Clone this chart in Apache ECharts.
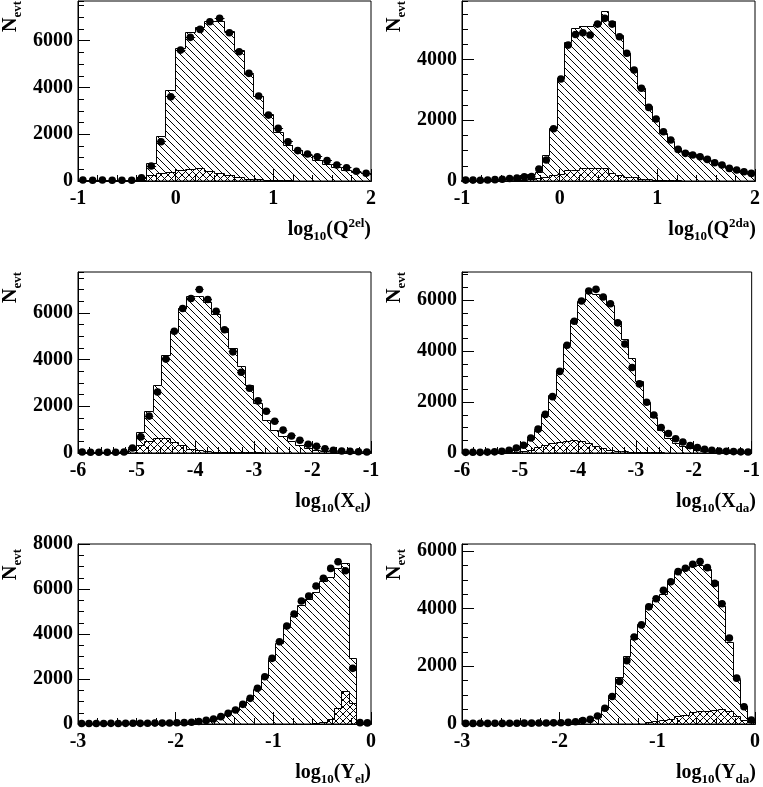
<!DOCTYPE html>
<html>
<head>
<meta charset="utf-8">
<title>Histograms</title>
<script src="https://cdn.jsdelivr.net/npm/echarts@6/dist/echarts.min.js"></script>
<style>
html,body{margin:0;padding:0;background:#fff;}
#chart{width:763px;height:787px;}
</style>
</head>
<body>
<div id="chart"></div>
<script>
// ---------------- data ----------------
// Panel 1: log10(Q2 el), 30 bins on [-1,2]
const mcQel = [15,20,20,25,25,30,110,755,1890,3860,5670,6360,6555,6815,6830,6385,5600,4535,3605,2830,2065,1540,1300,1070,870,715,570,470,370,300];
const bgQel = [0,0,0,0,0,0,10,220,300,370,470,480,540,410,300,230,160,85,45,30,10,5,0,0,0,0,0,0,0,0];
const dtQel = [40,35,40,30,35,30,140,640,1680,3600,5600,6145,6485,6815,6960,6340,5530,4605,3635,2820,2250,1680,1300,1155,1040,870,685,570,415,330];

// Panel 2: log10(Q2 da), 40 bins on [-1,2]
const mcQda = [10,10,15,20,25,35,45,70,140,200,265,855,1730,3355,4550,5020,5095,5095,5160,5570,5240,4770,4200,3650,3050,2440,1950,1570,1290,1075,930,860,770,680,580,500,420,340,280,220];
const bgQda = [0,0,0,0,0,0,0,10,20,40,80,120,175,200,330,330,395,395,395,395,250,175,120,120,65,35,30,15,10,5,0,0,0,0,0,0,0,0,0,0];
const dtQda = [30,30,25,35,45,60,80,100,135,150,395,690,1720,3355,4470,4820,4875,4800,5160,5350,5160,4745,4200,3650,3050,2420,2040,1620,1350,1040,910,855,800,710,600,525,415,360,305,250];

// Panel 3: log10(X el), 35 bins on [-6,-1]
const mcXel = [10,10,10,15,20,40,200,890,1780,2900,4170,5200,6180,6688,6688,6450,5927,5310,4470,3702,2875,2124,1406,960,689,474,330,190,115,70,45,30,20,15,10];
const bgXel = [0,0,0,0,0,5,130,300,480,640,620,460,300,170,100,60,40,25,15,10,5,5,0,0,0,0,0,0,0,0,0,0,0,0,0];
const dtXel = [40,35,35,30,30,45,215,690,1580,2610,4020,5210,6190,6615,7003,6570,6070,5280,4330,3460,2770,2230,1790,1360,980,730,545,375,285,185,115,85,70,55,45];

// Panel 4: log10(X da), 40 bins on [-6,-1]
const mcXda = [5,10,10,15,25,40,70,130,260,520,900,1500,2250,3200,4250,5200,5950,6250,6200,6150,5800,5150,4450,3700,2800,2000,1380,900,570,390,260,170,110,75,50,35,25,15,10,5];
const bgXda = [0,0,0,0,0,5,15,30,60,110,200,300,370,430,460,490,470,370,240,170,110,70,40,25,15,10,5,5,0,0,0,0,0,0,0,0,0,0,0,0];
const dtXda = [25,30,25,35,45,70,110,195,305,590,935,1515,2210,3200,4225,5170,5960,6355,6420,6120,5855,5105,4275,3355,2710,1990,1490,1000,765,560,430,290,210,145,105,80,65,55,45,40];

// Panel 5: log10(Y el), 40 bins on [-3,0]
const mcYel = [5,5,10,10,10,10,15,15,20,20,25,30,35,45,55,70,100,130,200,300,440,600,830,1100,1540,2050,2850,3600,4300,4800,5250,5550,5850,6350,6500,6900,7140,2900,10,5];
const bgYel = [0,0,0,0,0,0,0,0,0,0,0,0,0,0,0,0,0,0,0,0,0,0,0,0,0,0,0,0,0,0,0,0,20,60,180,700,1450,920,0,0];
const dtYel = [20,25,20,25,30,25,30,35,30,35,40,40,45,55,60,80,110,160,222,326,474,622,874,1140,1585,2103,2918,3658,4354,4887,5465,5687,6131,6472,6916,7212,6813,2473,60,50];

// Panel 6: log10(Y da), 40 bins on [-3,0]
const mcYda = [5,5,5,5,5,5,10,10,10,10,15,15,20,25,35,50,80,120,230,510,1000,1625,2345,2925,3447,4028,4283,4492,4898,5246,5362,5455,5502,5362,4956,4086,2809,1555,604,139];
const bgYda = [0,0,0,0,0,0,0,0,0,0,0,0,0,0,0,0,0,0,0,0,0,0,0,0,0,40,80,110,170,260,310,390,430,450,480,490,430,260,130,60];
const dtYda = [20,20,25,20,25,20,25,25,30,30,35,35,40,45,55,80,120,160,279,546,952,1474,2194,3018,3436,4062,4341,4631,4933,5281,5397,5537,5630,5420,4875,4167,2983,1590,600,139];

// axis ranges and titles
const xRanges = [[-1,2],[-1,2],[-6,-1],[-6,-1],[-3,0],[-3,0]];
const yMax = [7700,5920,7750,7100,8000,6240];
const xTitles = [
  '{m|log}{s|10}{m|(Q}{p|2}{q|el}{m|)}',
  '{m|log}{s|10}{m|(Q}{p|2}{q|da}{m|)}',
  '{m|log}{s|10}{m|(X}{s|el}{m|)}',
  '{m|log}{s|10}{m|(X}{s|da}{m|)}',
  '{m|log}{s|10}{m|(Y}{s|el}{m|)}',
  '{m|log}{s|10}{m|(Y}{s|da}{m|)}'
];
const yTitle = '{m|N}{s|evt}';

const panelData = [
  [mcQel, bgQel, dtQel], [mcQda, bgQda, dtQda],
  [mcXel, bgXel, dtXel], [mcXda, bgXda, dtXda],
  [mcYel, bgYel, dtYel], [mcYda, bgYda, dtYda]
];

// ---------------- layout / style ----------------
const layout = [
  {left:78,  top:1,   width:293, height:180},
  {left:462, top:1,   width:294, height:180},
  {left:78,  top:272, width:293, height:181},
  {left:462, top:272, width:294, height:181},
  {left:78,  top:544, width:293, height:180},
  {left:462, top:544, width:294, height:180}
];
const nameOffset = [0, 0, 0, 0, 5, 5];
const FONT = 'Liberation Serif';

function makeTile(s, both) {
  const c = document.createElement('canvas');
  c.width = s; c.height = s;
  const g = c.getContext('2d');
  g.fillStyle = '#000';
  for (let i = 0; i < s; i++) {
    g.fillRect(i, i, 1, 1);
    if (both) g.fillRect(s - 1 - i, i, 1, 1);
  }
  return c;
}
const hatchFill = {image: makeTile(7, false), repeat: 'repeat'};
const crossFill = {image: makeTile(7, true), repeat: 'repeat'};
const sn = v => Math.round(v - 0.5) + 0.5;

function histItems(vals, x0, x1) {
  const w = (x1 - x0) / vals.length;
  return vals.map((v, i) => [x0 + i * w, x0 + (i + 1) * w, v, i ? vals[i - 1] : 0, i === vals.length - 1 ? 1 : 0]);
}

function renderHist(fill) {
  return function (params, api) {
    const a = api.coord([api.value(0), api.value(2)]);
    const b = api.coord([api.value(1), 0]);
    const p = api.coord([api.value(0), api.value(3)]);
    const xL = sn(a[0]), xR = sn(b[0]), yT = sn(a[1]), yP = sn(p[1]), y0 = sn(b[1]);
    const pts = [[xL, yP], [xL, yT], [xR, yT]];
    if (api.value(4)) pts.push([xR, y0]);
    return {
      type: 'group',
      children: [
        {type: 'rect', shape: {x: a[0], y: a[1], width: b[0] - a[0], height: b[1] - a[1]},
         style: {fill: fill, stroke: null}},
        {type: 'polyline', shape: {points: pts}, style: {fill: null, stroke: '#000', lineWidth: 1}}
      ]
    };
  };
}

function renderPts(params, api) {
  const v = api.value(2);
  const a = api.coord([api.value(0), v]);
  const b = api.coord([api.value(1), v]);
  const cx = (a[0] + b[0]) / 2;
  return {
    type: 'group',
    children: [
      {type: 'line', shape: {x1: a[0], y1: sn(a[1]), x2: b[0], y2: sn(a[1])}, style: {stroke: '#000', lineWidth: 1}},
      {type: 'circle', shape: {cx: cx, cy: a[1], r: 3.8}, style: {fill: '#000', stroke: null}}
    ]
  };
}

const labelStyle = {color: '#000', fontFamily: FONT, fontWeight: 'bold', fontSize: 20};
const rich = {
  m: {fontFamily: FONT, fontWeight: 'bold', fontSize: 20, lineHeight: 26, fill: '#000', color: '#000'},
  s: {fontFamily: FONT, fontWeight: 'bold', fontSize: 13, lineHeight: 14, verticalAlign: 'bottom', fill: '#000', color: '#000'},
  p: {fontFamily: FONT, fontWeight: 'bold', fontSize: 13, lineHeight: 14, verticalAlign: 'top', fill: '#000', color: '#000'},
  q: {fontFamily: FONT, fontWeight: 'bold', fontSize: 13, lineHeight: 18, verticalAlign: 'top', fill: '#000', color: '#000'}
};

const grids = [], xAxes = [], yAxes = [], series = [], graphics = [];

layout.forEach((L, k) => {
  grids.push({left: L.left, top: L.top, width: L.width, height: L.height, show: true,
              borderColor: '#000', borderWidth: 1, backgroundColor: 'transparent'});
  const [x0, x1] = xRanges[k];
  const xb = {type: 'value', gridIndex: k, min: x0, max: x1, position: 'bottom', z: 10,
              splitLine: {show: false}};
  xAxes.push(Object.assign({}, xb, {
    interval: 1,
    axisLine: {show: true, onZero: false, lineStyle: {color: '#000', width: 1}},
    axisTick: {show: true, inside: true, length: 12, lineStyle: {color: '#000', width: 1}},
    axisLabel: Object.assign({margin: 8, formatter: v => String(v)}, labelStyle)
  }));
  xAxes.push(Object.assign({}, xb, {
    interval: 0.2,
    axisLine: {show: false, onZero: false},
    axisTick: {show: true, inside: true, length: 6, lineStyle: {color: '#000', width: 1}},
    axisLabel: {show: false}
  }));
  const yb = {type: 'value', gridIndex: k, min: 0, max: yMax[k], position: 'left', z: 10,
              splitLine: {show: false}};
  yAxes.push(Object.assign({}, yb, {
    interval: 2000,
    axisLine: {show: true, onZero: false, lineStyle: {color: '#000', width: 1}},
    axisTick: {show: true, inside: true, length: 12, lineStyle: {color: '#000', width: 1}},
    axisLabel: Object.assign({margin: 5, formatter: v => String(v),
                              showMaxLabel: yMax[k] % 2000 === 0}, labelStyle)
  }));
  yAxes.push(Object.assign({}, yb, {
    interval: 500,
    axisLine: {show: false, onZero: false},
    axisTick: {show: true, inside: true, length: 6, lineStyle: {color: '#000', width: 1}},
    axisLabel: {show: false}
  }));

  const [mc, bg, dt] = panelData[k];
  const common = {type: 'custom', coordinateSystem: 'cartesian2d', xAxisIndex: 2 * k, yAxisIndex: 2 * k,
                  encode: {x: [0, 1], y: 2}, silent: true, animation: false};
  series.push(Object.assign({}, common, {z: 2, data: histItems(mc, x0, x1), renderItem: renderHist(hatchFill)}));
  series.push(Object.assign({}, common, {z: 3, data: histItems(bg, x0, x1), renderItem: renderHist(crossFill)}));
  series.push(Object.assign({}, common, {z: 4, data: histItems(dt, x0, x1), renderItem: renderPts}));

  graphics.push({
    type: 'text', x: L.left + L.width, y: L.top + L.height + 49, silent: true,
    style: {text: xTitles[k], rich: rich, align: 'right', verticalAlign: 'middle',
            textAlign: 'right', textVerticalAlign: 'middle',
            fontFamily: FONT, fontWeight: 'bold', fontSize: 20, fill: '#000'}
  });
  graphics.push({
    type: 'text', x: L.left - 67, y: L.top + nameOffset[k], rotation: Math.PI / 2, silent: true,
    style: {text: yTitle, rich: rich, align: 'right', verticalAlign: 'middle',
            textAlign: 'right', textVerticalAlign: 'middle',
            fontFamily: FONT, fontWeight: 'bold', fontSize: 20, fill: '#000'}
  });
});

const chart = echarts.init(document.getElementById('chart'), null, {renderer: 'canvas'});
chart.setOption({
  animation: false,
  backgroundColor: '#fff',
  grid: grids,
  xAxis: xAxes,
  yAxis: yAxes,
  series: series,
  graphic: graphics
});
</script>
</body>
</html>
